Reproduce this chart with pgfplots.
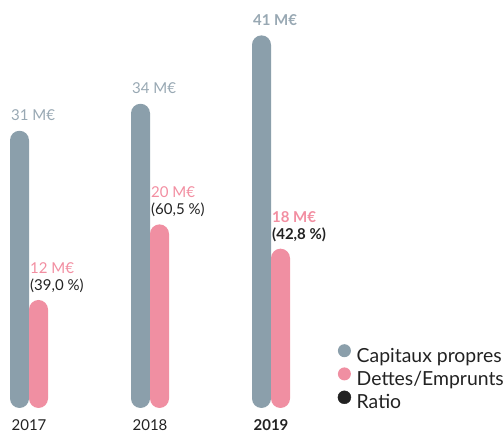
\documentclass[border=0pt]{standalone}
\usepackage{fontspec}
\setmainfont{Lato}
\usepackage{pgfplots}
\pgfplotsset{compat=1.18}
\definecolor{graybar}{HTML}{8B9FAB}
\definecolor{pinkbar}{HTML}{F08FA2}
\definecolor{graylab}{HTML}{98A8B3}
\definecolor{pinklab}{HTML}{F28EA1}
\definecolor{darktxt}{HTML}{222222}
\begin{document}
\begin{tikzpicture}
\path[use as bounding box] (0,0) rectangle (504bp,432bp);
\begin{axis}[
  at={(0,24bp)}, anchor=south west,
  scale only axis, width=504bp, height=408bp,
  xmin=-0.2397, xmax=3.9256, ymin=0, ymax=45.33,
  axis line style={draw=none}, major tick length=0pt,
  ytick=\empty, xtick={0,1,2}, xticklabels={2017,2018,\textbf{2019}},
  xticklabel style={font=\fontsize{15bp}{18bp}\selectfont, text=darktxt, inner sep=0pt, anchor=north, yshift=-11bp},
  /pgf/number format/assume math mode=true,
  ybar=0pt, bar width=19bp,
  clip=false,
  point meta=explicit symbolic,
  nodes near coords,
  every node near coord/.append style={font=\fontsize{15bp}{17bp}\selectfont, align=left, anchor=south west, inner sep=0pt, xshift=-8.5bp, yshift=10bp},
  legend style={draw=none, fill=none, at={(rel axis cs:1,0)}, anchor=south east, yshift=-5bp,
    font=\fontsize{19.4bp}{23bp}\selectfont, text=darktxt, inner sep=0pt, row sep=1.2bp,
    nodes={inner sep=0pt, text height=14bp, text depth=4bp},
    /tikz/every odd column/.append style={column sep=5.6bp},
    /tikz/every even column/.append style={column sep=0pt}},
  legend cell align=left,
]
\addplot[fill=graybar, draw=none, rounded corners=9.5bp,
  legend image code/.code={\fill[graybar] (6.5bp,6.5bp) circle (6.5bp);}]
  coordinates {(0,30.8) [\textcolor{graylab}{31 M€}] (1,33.8) [\textcolor{graylab}{34 M€}] (2,41.4) [\textcolor{graylab}{\bfseries 41 M€}]};
\addlegendentry{Capitaux propres}
\addplot[fill=pinkbar, draw=none, rounded corners=9.5bp,
  every node near coord/.append style={yshift=-3bp},
  legend image code/.code={\fill[pinkbar] (6.5bp,6.5bp) circle (6.5bp);}]
  coordinates {(0,12.0) [{\textcolor{pinklab}{12 M€}\\\textcolor{darktxt}{(39,0~\%)}}] (1,20.4) [{\textcolor{pinklab}{20 M€}\\\textcolor{darktxt}{(60,5~\%)}}] (2,17.7) [{\textcolor{pinklab}{\bfseries 18 M€}\\\textcolor{darktxt}{\bfseries (42,8~\%)}}]};
\addlegendentry{Dettes/Emprunts}
\addlegendimage{legend image code/.code={\fill[darktxt] (6.5bp,6.5bp) circle (6.5bp);}}
\addlegendentry{Ratio}
\end{axis}
\end{tikzpicture}
\end{document}
